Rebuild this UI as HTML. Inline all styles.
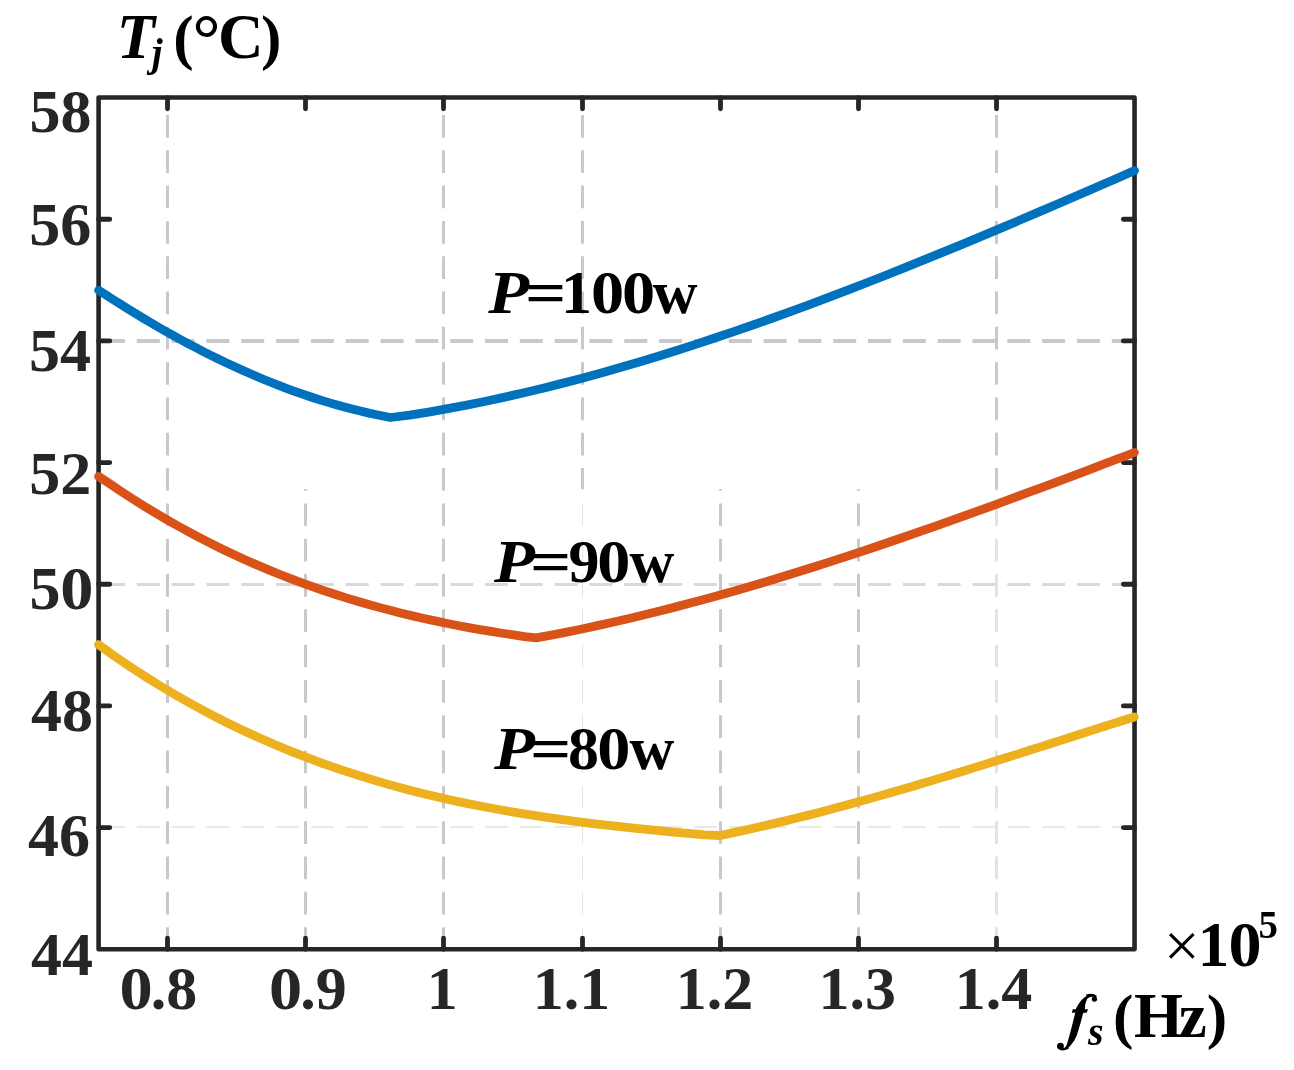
<!DOCTYPE html>
<html><head><meta charset="utf-8"><style>
html,body{margin:0;padding:0;background:#fff;width:1294px;height:1070px;overflow:hidden}
svg{display:block;will-change:transform}
</style></head><body>
<svg width="1294" height="1070" viewBox="0 0 1294 1070">
<rect width="1294" height="1070" fill="#fff"/>
<line x1="167.50" y1="99.80" x2="167.50" y2="489.00" stroke="#c9c9c9" stroke-width="3.0" stroke-dasharray="22.7 12.61" stroke-dashoffset="20.11"/>
<line x1="443.50" y1="99.80" x2="443.50" y2="489.00" stroke="#c9c9c9" stroke-width="3.0" stroke-dasharray="22.7 12.61" stroke-dashoffset="20.11"/>
<line x1="582.50" y1="99.80" x2="582.50" y2="489.00" stroke="#c9c9c9" stroke-width="3.0" stroke-dasharray="22.7 12.61" stroke-dashoffset="20.11"/>
<line x1="996.50" y1="99.80" x2="996.50" y2="489.00" stroke="#c9c9c9" stroke-width="3.0" stroke-dasharray="22.7 12.61" stroke-dashoffset="20.11"/>
<line x1="167.50" y1="489.00" x2="167.50" y2="947.00" stroke="#c9c9c9" stroke-width="3.0" stroke-dasharray="22.7 12.61" stroke-dashoffset="409.31"/>
<line x1="305.50" y1="489.00" x2="305.50" y2="947.00" stroke="#c9c9c9" stroke-width="3.0" stroke-dasharray="22.7 12.61" stroke-dashoffset="409.31"/>
<line x1="443.50" y1="489.00" x2="443.50" y2="947.00" stroke="#c9c9c9" stroke-width="3.0" stroke-dasharray="22.7 12.61" stroke-dashoffset="409.31"/>
<line x1="720.50" y1="489.00" x2="720.50" y2="947.00" stroke="#c9c9c9" stroke-width="3.0" stroke-dasharray="22.7 12.61" stroke-dashoffset="409.31"/>
<line x1="858.50" y1="489.00" x2="858.50" y2="947.00" stroke="#c9c9c9" stroke-width="3.0" stroke-dasharray="22.7 12.61" stroke-dashoffset="409.31"/>
<line x1="582.50" y1="489.00" x2="582.50" y2="947.00" stroke="#e4e4e4" stroke-width="1.0" stroke-dasharray="22.7 12.61" stroke-dashoffset="409.31"/>
<line x1="996.50" y1="489.00" x2="996.50" y2="947.00" stroke="#e3e3e3" stroke-width="3.0" stroke-dasharray="22.7 12.61" stroke-dashoffset="409.31"/>
<line x1="100.90" y1="341.00" x2="1132.30" y2="341.00" stroke="#c9c9c9" stroke-width="4.0" stroke-dasharray="23 11.82" stroke-dashoffset="-1.08"/>
<line x1="100.90" y1="584.50" x2="1132.30" y2="584.50" stroke="#d9d9d9" stroke-width="2.8" stroke-dasharray="23 11.82" stroke-dashoffset="-1.08"/>
<line x1="100.90" y1="827.00" x2="1132.30" y2="827.00" stroke="#e2e2e2" stroke-width="1.5" stroke-dasharray="23 11.82" stroke-dashoffset="-1.08"/>
<rect x="98.6" y="97.55" width="1035.95" height="851.75" fill="none" stroke="#262626" stroke-width="4.6" stroke-linejoin="round"/>
<path d="M167.50,949.30V938.10M167.50,97.55V108.75M305.50,949.30V938.10M305.50,97.55V108.75M443.50,949.30V938.10M443.50,97.55V108.75M582.50,949.30V938.10M582.50,97.55V108.75M720.50,949.30V938.10M720.50,97.55V108.75M858.50,949.30V938.10M858.50,97.55V108.75M996.50,949.30V938.10M996.50,97.55V108.75M98.60,827.62H109.80M1134.55,827.62H1123.35M98.60,705.94H109.80M1134.55,705.94H1123.35M98.60,584.26H109.80M1134.55,584.26H1123.35M98.60,462.59H109.80M1134.55,462.59H1123.35M98.60,340.91H109.80M1134.55,340.91H1123.35M98.60,219.23H109.80M1134.55,219.23H1123.35" stroke="#262626" stroke-width="4.8" stroke-linecap="round" fill="none"/>
<path d="M98.60,290.30 L106.08,295.01 L113.56,299.84 L121.05,304.59 L128.53,309.27 L136.01,313.87 L143.49,318.39 L150.97,322.83 L158.46,327.19 L165.94,331.46 L173.42,335.65 L180.90,339.76 L188.38,343.79 L195.87,347.73 L203.35,351.58 L210.83,355.35 L218.31,359.02 L225.79,362.61 L233.28,366.11 L240.76,369.52 L248.24,372.84 L255.72,376.07 L263.21,379.20 L270.69,382.24 L278.17,385.19 L285.65,388.04 L293.13,390.79 L300.62,393.45 L308.10,396.01 L315.58,398.47 L323.06,400.83 L330.54,403.09 L338.03,405.24 L345.51,407.30 L352.99,409.25 L360.47,411.10 L367.95,412.85 L375.44,414.49 L382.92,416.02 L390.40,417.50 L409.48,415.18 L428.56,412.06 L447.64,408.69 L466.72,405.06 L485.80,401.19 L504.88,397.08 L523.96,392.74 L543.04,388.18 L562.12,383.39 L581.19,378.40 L600.27,373.20 L619.35,367.80 L638.43,362.21 L657.51,356.43 L676.59,350.47 L695.67,344.35 L714.75,338.05 L733.83,331.60 L752.91,324.99 L771.99,318.23 L791.07,311.34 L810.15,304.31 L829.23,297.15 L848.31,289.88 L867.39,282.49 L886.47,274.99 L905.55,267.39 L924.63,259.70 L943.71,251.92 L962.78,244.06 L981.86,236.12 L1000.94,228.11 L1020.02,220.05 L1039.10,211.92 L1058.18,203.75 L1077.26,195.54 L1096.34,187.29 L1115.42,179.01 L1134.50,170.50" fill="none" stroke="#0072BD" stroke-width="8.8" stroke-linecap="round" stroke-linejoin="round"/>
<path d="M98.60,476.50 L109.82,483.79 L121.03,491.33 L132.25,498.63 L143.46,505.69 L154.68,512.53 L165.89,519.14 L177.11,525.52 L188.32,531.69 L199.54,537.65 L210.75,543.40 L221.97,548.94 L233.18,554.28 L244.40,559.42 L255.62,564.38 L266.83,569.14 L278.05,573.72 L289.26,578.12 L300.48,582.35 L311.69,586.40 L322.91,590.29 L334.12,594.02 L345.34,597.58 L356.55,601.00 L367.77,604.26 L378.98,607.37 L390.20,610.35 L401.42,613.19 L412.63,615.89 L423.85,618.46 L435.06,620.91 L446.28,623.24 L457.49,625.46 L468.71,627.56 L479.92,629.55 L491.14,631.44 L502.35,633.23 L513.57,634.92 L524.78,636.52 L536.00,637.80 L551.34,635.08 L566.69,632.08 L582.03,628.94 L597.37,625.66 L612.72,622.26 L628.06,618.72 L643.41,615.06 L658.75,611.28 L674.09,607.38 L689.44,603.36 L704.78,599.23 L720.12,595.00 L735.47,590.66 L750.81,586.22 L766.15,581.68 L781.50,577.05 L796.84,572.33 L812.18,567.52 L827.53,562.63 L842.87,557.65 L858.22,552.60 L873.56,547.48 L888.90,542.29 L904.25,537.03 L919.59,531.71 L934.93,526.33 L950.28,520.89 L965.62,515.40 L980.96,509.86 L996.31,504.28 L1011.65,498.65 L1026.99,492.99 L1042.34,487.29 L1057.68,481.55 L1073.03,475.79 L1088.37,470.01 L1103.71,464.20 L1119.06,458.38 L1134.40,452.50" fill="none" stroke="#D95319" stroke-width="8.8" stroke-linecap="round" stroke-linejoin="round"/>
<path d="M98.50,644.70 L114.45,656.13 L130.40,666.93 L146.35,677.26 L162.29,687.12 L178.24,696.54 L194.19,705.52 L210.14,714.07 L226.09,722.21 L242.04,729.95 L257.99,737.30 L273.94,744.28 L289.88,750.89 L305.83,757.15 L321.78,763.07 L337.73,768.67 L353.68,773.94 L369.63,778.92 L385.58,783.60 L401.53,788.01 L417.47,792.15 L433.42,796.03 L449.37,799.67 L465.32,803.08 L481.27,806.27 L497.22,809.26 L513.17,812.06 L529.12,814.67 L545.06,817.11 L561.01,819.40 L576.96,821.54 L592.91,823.54 L608.86,825.43 L624.81,827.21 L640.76,828.89 L656.71,830.49 L672.65,832.02 L688.60,833.48 L704.55,834.90 L720.50,835.50 L731.11,833.16 L741.72,830.88 L752.33,828.53 L762.94,826.12 L773.55,823.65 L784.16,821.11 L794.77,818.52 L805.38,815.86 L815.99,813.16 L826.60,810.40 L837.21,807.59 L847.82,804.73 L858.43,801.82 L869.04,798.88 L879.65,795.88 L890.26,792.85 L900.87,789.78 L911.48,786.68 L922.09,783.54 L932.71,780.36 L943.32,777.16 L953.93,773.93 L964.54,770.68 L975.15,767.40 L985.76,764.10 L996.37,760.79 L1006.98,757.45 L1017.59,754.10 L1028.20,750.74 L1038.81,747.36 L1049.42,743.98 L1060.03,740.59 L1070.64,737.20 L1081.25,733.80 L1091.86,730.40 L1102.47,727.01 L1113.08,723.62 L1123.69,720.23 L1134.30,717.00" fill="none" stroke="#EDB120" stroke-width="8.8" stroke-linecap="round" stroke-linejoin="round"/>
<text x="29.42" y="132.40" style="font-family:&quot;Liberation Serif&quot;,serif;font-weight:bold;font-size:62px" fill="#262626">5</text><text x="60.42" y="132.40" style="font-family:&quot;Liberation Serif&quot;,serif;font-weight:bold;font-size:62px" fill="#262626">8</text>
<text x="29.22" y="245.40" style="font-family:&quot;Liberation Serif&quot;,serif;font-weight:bold;font-size:62px" fill="#262626">5</text><text x="60.22" y="245.40" style="font-family:&quot;Liberation Serif&quot;,serif;font-weight:bold;font-size:62px" fill="#262626">6</text>
<text x="29.02" y="370.80" style="font-family:&quot;Liberation Serif&quot;,serif;font-weight:bold;font-size:62px" fill="#262626">5</text><text x="60.02" y="370.80" style="font-family:&quot;Liberation Serif&quot;,serif;font-weight:bold;font-size:62px" fill="#262626">4</text>
<text x="29.32" y="493.80" style="font-family:&quot;Liberation Serif&quot;,serif;font-weight:bold;font-size:62px" fill="#262626">5</text><text x="60.32" y="493.80" style="font-family:&quot;Liberation Serif&quot;,serif;font-weight:bold;font-size:62px" fill="#262626">2</text>
<text x="29.52" y="609.30" style="font-family:&quot;Liberation Serif&quot;,serif;font-weight:bold;font-size:62px" fill="#262626">5</text><text transform="translate(60.35,609.30) scale(1.07,1)" style="font-family:&quot;Liberation Serif&quot;,serif;font-weight:bold;font-size:62px" fill="#262626">0</text>
<text x="30.95" y="730.80" style="font-family:&quot;Liberation Serif&quot;,serif;font-weight:bold;font-size:62px" fill="#262626">4</text><text x="61.95" y="730.80" style="font-family:&quot;Liberation Serif&quot;,serif;font-weight:bold;font-size:62px" fill="#262626">8</text>
<text x="28.05" y="855.80" style="font-family:&quot;Liberation Serif&quot;,serif;font-weight:bold;font-size:62px" fill="#262626">4</text><text x="59.05" y="855.80" style="font-family:&quot;Liberation Serif&quot;,serif;font-weight:bold;font-size:62px" fill="#262626">6</text>
<text x="30.95" y="975.10" style="font-family:&quot;Liberation Serif&quot;,serif;font-weight:bold;font-size:62px" fill="#262626">4</text><text x="61.95" y="975.10" style="font-family:&quot;Liberation Serif&quot;,serif;font-weight:bold;font-size:62px" fill="#262626">4</text>
<text transform="translate(119.47,1008.80) scale(1.07,1)" style="font-family:&quot;Liberation Serif&quot;,serif;font-weight:bold;font-size:62px" fill="#262626">0</text><text x="150.64" y="1008.80" style="font-family:&quot;Liberation Serif&quot;,serif;font-weight:bold;font-size:62px" fill="#262626">.</text><text x="166.14" y="1008.80" style="font-family:&quot;Liberation Serif&quot;,serif;font-weight:bold;font-size:62px" fill="#262626">8</text>
<text transform="translate(269.07,1008.80) scale(1.07,1)" style="font-family:&quot;Liberation Serif&quot;,serif;font-weight:bold;font-size:62px" fill="#262626">0</text><text x="300.24" y="1008.80" style="font-family:&quot;Liberation Serif&quot;,serif;font-weight:bold;font-size:62px" fill="#262626">.</text><text x="315.74" y="1008.80" style="font-family:&quot;Liberation Serif&quot;,serif;font-weight:bold;font-size:62px" fill="#262626">9</text>
<text x="426.74" y="1008.80" style="font-family:&quot;Liberation Serif&quot;,serif;font-weight:bold;font-size:62px" fill="#262626">1</text>
<text x="532.74" y="1008.80" style="font-family:&quot;Liberation Serif&quot;,serif;font-weight:bold;font-size:62px" fill="#262626">1</text><text x="563.74" y="1008.80" style="font-family:&quot;Liberation Serif&quot;,serif;font-weight:bold;font-size:62px" fill="#262626">.</text><text x="579.24" y="1008.80" style="font-family:&quot;Liberation Serif&quot;,serif;font-weight:bold;font-size:62px" fill="#262626">1</text>
<text x="675.74" y="1008.80" style="font-family:&quot;Liberation Serif&quot;,serif;font-weight:bold;font-size:62px" fill="#262626">1</text><text x="706.74" y="1008.80" style="font-family:&quot;Liberation Serif&quot;,serif;font-weight:bold;font-size:62px" fill="#262626">.</text><text x="722.24" y="1008.80" style="font-family:&quot;Liberation Serif&quot;,serif;font-weight:bold;font-size:62px" fill="#262626">2</text>
<text x="818.54" y="1008.80" style="font-family:&quot;Liberation Serif&quot;,serif;font-weight:bold;font-size:62px" fill="#262626">1</text><text x="849.54" y="1008.80" style="font-family:&quot;Liberation Serif&quot;,serif;font-weight:bold;font-size:62px" fill="#262626">.</text><text x="865.04" y="1008.80" style="font-family:&quot;Liberation Serif&quot;,serif;font-weight:bold;font-size:62px" fill="#262626">3</text>
<text x="954.74" y="1008.80" style="font-family:&quot;Liberation Serif&quot;,serif;font-weight:bold;font-size:62px" fill="#262626">1</text><text x="985.74" y="1008.80" style="font-family:&quot;Liberation Serif&quot;,serif;font-weight:bold;font-size:62px" fill="#262626">.</text><text x="1001.24" y="1008.80" style="font-family:&quot;Liberation Serif&quot;,serif;font-weight:bold;font-size:62px" fill="#262626">4</text>
<text x="116.75" y="58.00" style="font-family:&quot;Liberation Serif&quot;,serif;font-weight:bold;font-style:italic;font-size:62.5px" fill="#000">T</text>
<text x="151.70" y="66.00" style="font-family:&quot;Liberation Serif&quot;,serif;font-weight:bold;font-style:italic;font-size:39px" fill="#000">j</text>
<text x="173.31" y="58.00" style="font-family:&quot;Liberation Serif&quot;,serif;font-weight:bold;font-size:61.3px" fill="#000">(</text>
<text x="192.45" y="62.00" style="font-family:&quot;Liberation Serif&quot;,serif;font-weight:bold;font-size:70px" fill="#000">°</text>
<text x="217.92" y="58.00" style="font-family:&quot;Liberation Serif&quot;,serif;font-weight:bold;font-size:63px" fill="#000">C</text>
<text x="261.02" y="58.00" style="font-family:&quot;Liberation Serif&quot;,serif;font-weight:bold;font-size:61.3px" fill="#000">)</text>
<path d="M1084.61,997.29 L1081.57,1000.02 L1078.54,1003.96 L1076.11,1008.21 L1074.89,1014.29 L1073.07,1021.57 L1071.25,1028.86 L1069.43,1035.54 L1067.91,1041.00 L1066.39,1045.86 L1064.57,1047.98 L1064.57,1049.81 L1067.61,1048.59 L1071.25,1044.64 L1074.29,1040.39 L1076.72,1035.54 L1078.84,1028.86 L1080.97,1021.57 L1082.79,1014.29 L1084.91,1008.82 L1085.22,1004.57 L1087.04,999.11 L1089.47,997.29 L1092.50,996.68 L1094.63,994.74 L1089.47,995.10 L1086.43,996.07Z" fill="#000"/>
<circle cx="1094.44" cy="999.11" r="2.7" fill="#000"/>
<circle cx="1060.44" cy="1046.16" r="3.4" fill="#000"/>
<path d="M1086.43,995.77 Q1092.50,993.64 1096.14,996.98" stroke="#000" stroke-width="2.6" fill="none"/>
<path d="M1060.32,1048.29 Q1062.14,1050.72 1068.21,1047.68" stroke="#000" stroke-width="2.4" fill="none"/>
<path d="M1072.77,1009.13 L1087.95,1009.13 L1086.73,1012.77 L1071.86,1012.77Z" fill="#000"/>
<text x="1088.11" y="1044.50" style="font-family:&quot;Liberation Serif&quot;,serif;font-weight:bold;font-style:italic;font-size:40px" fill="#000">s</text>
<text x="1133.92" y="1036.80" style="font-family:&quot;Liberation Serif&quot;,serif;font-weight:bold;font-size:63px" fill="#000">H</text>
<text x="1178.67" y="1036.80" style="font-family:&quot;Liberation Serif&quot;,serif;font-weight:bold;font-size:63px" fill="#000">z</text>
<text x="1113.01" y="1036.80" style="font-family:&quot;Liberation Serif&quot;,serif;font-weight:bold;font-size:61.3px" fill="#000">(</text>
<text x="1206.82" y="1036.80" style="font-family:&quot;Liberation Serif&quot;,serif;font-weight:bold;font-size:61.3px" fill="#000">)</text>
<text x="1163.92" y="967.00" style="font-family:&quot;Liberation Serif&quot;,serif;font-size:63px" fill="#000">×</text>
<text x="1197.86" y="965.90" style="font-family:&quot;Liberation Serif&quot;,serif;font-weight:bold;font-size:63px" fill="#000">1</text>
<text transform="translate(1228.48,965.90) scale(1.05,1)" style="font-family:&quot;Liberation Serif&quot;,serif;font-weight:bold;font-size:63px" fill="#000">0</text>
<text x="1258.44" y="938.40" style="font-family:&quot;Liberation Serif&quot;,serif;font-weight:bold;font-size:39px" fill="#000">5</text>
<text transform="translate(488.23,312.70) scale(1.08,1)" style="font-family:&quot;Liberation Serif&quot;,serif;font-weight:bold;font-style:italic;font-size:62px" fill="#000">P</text>
<text transform="translate(524.89,312.70) scale(1.17,1)" style="font-family:&quot;Liberation Serif&quot;,serif;font-weight:bold;font-size:62px" fill="#000">=</text>
<text x="560.94" y="312.70" style="font-family:&quot;Liberation Serif&quot;,serif;font-weight:bold;font-size:62px" fill="#000">1</text>
<text transform="translate(591.07,312.70) scale(1.07,1)" style="font-family:&quot;Liberation Serif&quot;,serif;font-weight:bold;font-size:62px" fill="#000">0</text>
<text transform="translate(621.97,312.70) scale(1.07,1)" style="font-family:&quot;Liberation Serif&quot;,serif;font-weight:bold;font-size:62px" fill="#000">0</text>
<text x="652.82" y="312.70" style="font-family:&quot;Liberation Serif&quot;,serif;font-weight:bold;font-size:62px" fill="#000">w</text>
<text transform="translate(493.93,581.50) scale(1.08,1)" style="font-family:&quot;Liberation Serif&quot;,serif;font-weight:bold;font-style:italic;font-size:62px" fill="#000">P</text>
<text transform="translate(529.99,581.50) scale(1.17,1)" style="font-family:&quot;Liberation Serif&quot;,serif;font-weight:bold;font-size:62px" fill="#000">=</text>
<text x="568.40" y="581.50" style="font-family:&quot;Liberation Serif&quot;,serif;font-weight:bold;font-size:62px" fill="#000">9</text>
<text transform="translate(597.37,581.50) scale(1.07,1)" style="font-family:&quot;Liberation Serif&quot;,serif;font-weight:bold;font-size:62px" fill="#000">0</text>
<text x="629.42" y="581.50" style="font-family:&quot;Liberation Serif&quot;,serif;font-weight:bold;font-size:62px" fill="#000">w</text>
<text transform="translate(493.93,768.60) scale(1.08,1)" style="font-family:&quot;Liberation Serif&quot;,serif;font-weight:bold;font-style:italic;font-size:62px" fill="#000">P</text>
<text transform="translate(529.99,768.60) scale(1.17,1)" style="font-family:&quot;Liberation Serif&quot;,serif;font-weight:bold;font-size:62px" fill="#000">=</text>
<text x="568.04" y="768.60" style="font-family:&quot;Liberation Serif&quot;,serif;font-weight:bold;font-size:62px" fill="#000">8</text>
<text transform="translate(597.37,768.60) scale(1.07,1)" style="font-family:&quot;Liberation Serif&quot;,serif;font-weight:bold;font-size:62px" fill="#000">0</text>
<text x="629.42" y="768.60" style="font-family:&quot;Liberation Serif&quot;,serif;font-weight:bold;font-size:62px" fill="#000">w</text>
</svg>
</body></html>
